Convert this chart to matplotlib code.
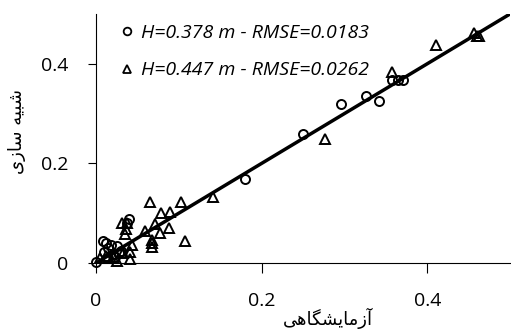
import matplotlib
matplotlib.use("Agg")
import matplotlib.pyplot as plt

# measured vs simulated values, two water depths
circ_x = [0.000, 0.008, 0.012, 0.010, 0.015, 0.018, 0.020, 0.023, 0.025, 0.028,
          0.015, 0.030, 0.040, 0.038, 0.180, 0.250, 0.296, 0.326, 0.342, 0.358,
          0.365, 0.371]
circ_y = [0.003, 0.045, 0.040, 0.022, 0.030, 0.036, 0.018, 0.012, 0.035, 0.020,
          0.010, 0.025, 0.088, 0.080, 0.168, 0.260, 0.319, 0.335, 0.325, 0.368,
          0.368, 0.368]

tri_x = [0.005, 0.012, 0.020, 0.025, 0.033, 0.041, 0.041, 0.043, 0.035, 0.036,
         0.031, 0.037, 0.059, 0.068, 0.068, 0.068, 0.071, 0.077, 0.079, 0.089,
         0.088, 0.065, 0.103, 0.107, 0.141, 0.277, 0.358, 0.411, 0.456, 0.460,
         0.462]
tri_y = [0.010, 0.015, 0.012, 0.005, 0.021, 0.009, 0.023, 0.036, 0.058, 0.068,
         0.080, 0.081, 0.065, 0.046, 0.040, 0.033, 0.078, 0.060, 0.100, 0.103,
         0.070, 0.122, 0.123, 0.045, 0.132, 0.250, 0.384, 0.438, 0.462, 0.455,
         0.455]

lbl_circ = "H=0.378 m - RMSE=0.0183"
lbl_tri = "H=0.447 m - RMSE=0.0262"

# persian labels, shaped by hand (presentation forms, visual order)
xlab = "\uFBFD\uFEEB\uFE8E\uFB95\uFEB8\uFBFE\uFE8E\uFEE3\uFEAF\uFE81"
ylab = "\uFBFC\uFEAF\uFE8E\uFEB3 \uFEEA\uFBFF\uFE92\uFEB7"

plt.rcParams['font.family'] = ['Open Sans', 'DejaVu Sans']

fig = plt.figure(figsize=(5.11, 3.29), dpi=100)
ax = fig.add_axes([96/511, 1 - 263/329, 414/511, 249/329])

ax.plot(circ_x, circ_y, 'o', mfc='none', mec='black', ms=6.5, mew=1.4,
        label=lbl_circ, clip_on=False, zorder=3)
ax.plot(tri_x, tri_y, '^', mfc='none', mec='black', ms=6.5, mew=1.4,
        label=lbl_tri, clip_on=False, zorder=3)
ax.plot([0, 0.5], [0, 0.5], color='black', lw=2.5, zorder=4)

ax.set_xlim(0, 0.5)
ax.set_ylim(0, 0.5)
ax.set_xticks([0, 0.2, 0.4])
ax.set_yticks([0, 0.2, 0.4])
ax.set_xticklabels(['0', '0.2', '0.4'])
ax.set_yticklabels(['0', '0.2', '0.4'])
ax.spines['top'].set_visible(False)
ax.spines['right'].set_visible(False)
ax.tick_params(axis='x', direction='out', length=7, width=0.8, pad=14, labelsize=14)
ax.tick_params(axis='y', direction='out', length=6, width=0.8, pad=14, labelsize=14)

leg = ax.legend(loc='upper left', bbox_to_anchor=(0.02, 1.03), frameon=False,
                handlelength=0.55, handletextpad=0.45, labelspacing=1.0,
                prop={'family': 'Open Sans', 'style': 'italic', 'size': 14})
for h in leg.legend_handles:
    h.set_markersize(5.5)
    h.set_markeredgewidth(1.3)

fig.text(328/511, 1 - 318/329, xlab, family='DejaVu Sans', fontsize=13,
         ha='center', va='center')
fig.text(17/511, 1 - 131/329, ylab, family='DejaVu Sans', fontsize=13,
         ha='center', va='center', rotation=90)

fig.savefig('out.png', dpi=100)
